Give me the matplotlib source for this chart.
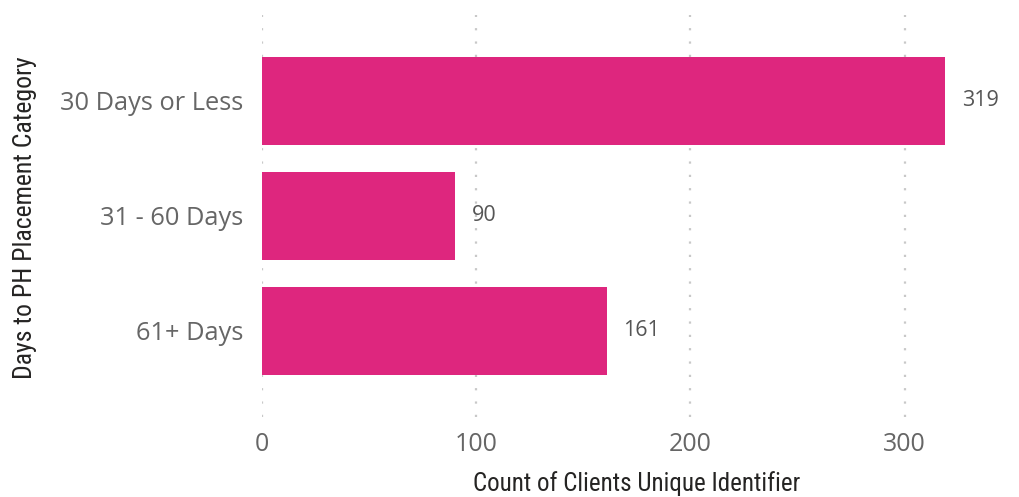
import matplotlib
matplotlib.use("Agg")
import matplotlib.pyplot as plt

# chart values
categories = ["30 Days or Less", "31 - 60 Days", "61+ Days"]
counts = [319, 90, 161]
x_ticks = [0, 100, 200, 300]

BAR_COLOR = "#DE267E"
TICK_COLOR = "#666666"
TITLE_COLOR = "#252423"
BODY_FONT = ["Open Sans", "DejaVu Sans"]
TITLE_FONT = ["Roboto Condensed", "Roboto", "DejaVu Sans"]

W, H = 1019, 497
fig = plt.figure(figsize=(W / 100, H / 100), dpi=100)

# axes placement in pixels (left, top, right, bottom)
left, top, right, bottom = 262, 14.75, 1001, 417
ax = fig.add_axes([left / W, 1 - bottom / H, (right - left) / W, (bottom - top) / H])

ypos = list(range(len(categories)))
ax.barh(ypos, counts, height=0.765, color=BAR_COLOR, zorder=2)

for y, v in zip(ypos, counts):
    ax.annotate(str(v), (v, y), xytext=(12, 0), textcoords="offset points",
                va="center", ha="left", fontsize=15.5, color="#555555",
                family=BODY_FONT)

ax.set_xlim(0, 345)
ax.set_ylim(2.75, -0.75)
ax.set_yticks(ypos)
ax.set_yticklabels(categories, fontsize=18.3, color=TICK_COLOR, family=BODY_FONT)
ax.set_xticks(x_ticks)
ax.set_xticklabels([str(t) for t in x_ticks], fontsize=18, color=TICK_COLOR,
                   family=BODY_FONT)
ax.tick_params(length=0, axis="y", pad=13.5)
ax.tick_params(length=0, axis="x", pad=11)

ax.grid(axis="x", color="#c8c8c8", linestyle=(0, (1, 5)), linewidth=1.6, zorder=0)
for s in ax.spines.values():
    s.set_visible(False)

# bottom-anchored so the descenders stay inside the canvas
fig.text(637 / W, 1 / H, "Count of Clients Unique Identifier", fontsize=18,
         color=TITLE_COLOR, family=TITLE_FONT, ha="center", va="bottom")
fig.text(25 / W, 1 - 218 / H, "Days to PH Placement Category", fontsize=18.5,
         color=TITLE_COLOR, family=TITLE_FONT, ha="center", va="center",
         rotation=90)

fig.savefig("out.png", dpi=100)
